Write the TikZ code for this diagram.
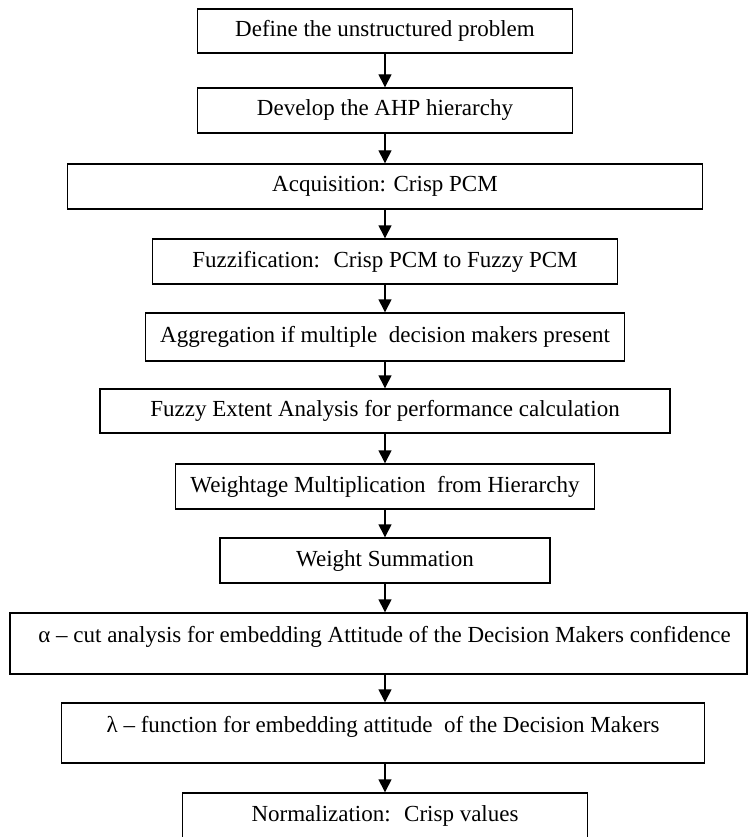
\documentclass[tikz,border=0pt]{standalone}
\usepackage{fontspec}
\setmainfont{Liberation Serif}
\usetikzlibrary{arrows.meta}
\begin{document}
\begin{tikzpicture}[
    x=1pt, y=-1pt,
    stepbox/.style={rectangle, draw, line width=1.4pt, inner sep=0pt, minimum height=45pt, align=center, font=\fontsize{23}{27}\selectfont},
    upper/.style={minimum height=61pt, text depth=18pt},
    arrow/.style={-{Triangle[length=13pt, width=13pt]}, line width=1.4pt}
]
    \useasboundingbox (0,0) rectangle (749,837);

    % Steps of the method, top to bottom
    \node[stepbox, minimum width=375pt, minimum height=44pt] (define) at (385, 31) {Define the unstructured problem};
    \node[stepbox, minimum width=375pt] (develop) at (385, 110.5) {Develop the AHP hierarchy};
    \node[stepbox, minimum width=635pt] (acquire) at (385, 186.5) {Acquisition: Crisp PCM};
    \node[stepbox, minimum width=465pt] (fuzzify) at (385, 261.5) {Fuzzification:~ Crisp PCM to Fuzzy PCM};
    \node[stepbox, minimum width=479pt, minimum height=48pt] (aggregate) at (385, 337) {Aggregation if multiple~ decision makers present};
    \node[stepbox, minimum width=570pt, minimum height=44pt] (extent) at (385, 411) {Fuzzy Extent Analysis for performance calculation};
    \node[stepbox, minimum width=419pt] (multiply) at (385, 486.5) {Weightage Multiplication~ from Hierarchy};
    \node[stepbox, minimum width=330pt] (summation) at (385, 560.5) {Weight Summation};
    \node[stepbox, upper, minimum width=737pt] (alphacut) at (378.5, 643.5) {\hspace*{12pt}α – cut analysis for embedding Attitude of the Decision Makers confidence};
    \node[stepbox, upper, minimum width=643pt, minimum height=60pt] (lambda) at (383, 733) {λ – function for embedding attitude~ of the Decision Makers};
    \node[stepbox, minimum width=405pt, minimum height=46pt] (normalize) at (385, 816) {Normalization:~ Crisp values};

    % Arrows between the steps
    \foreach \a/\b in {define/develop, develop/acquire, acquire/fuzzify, fuzzify/aggregate, aggregate/extent, extent/multiply, multiply/summation, summation/alphacut, alphacut/lambda, lambda/normalize}
        \draw[arrow] (\a.south -| define.south) -- (\b.north -| define.south);
\end{tikzpicture}
\end{document}
